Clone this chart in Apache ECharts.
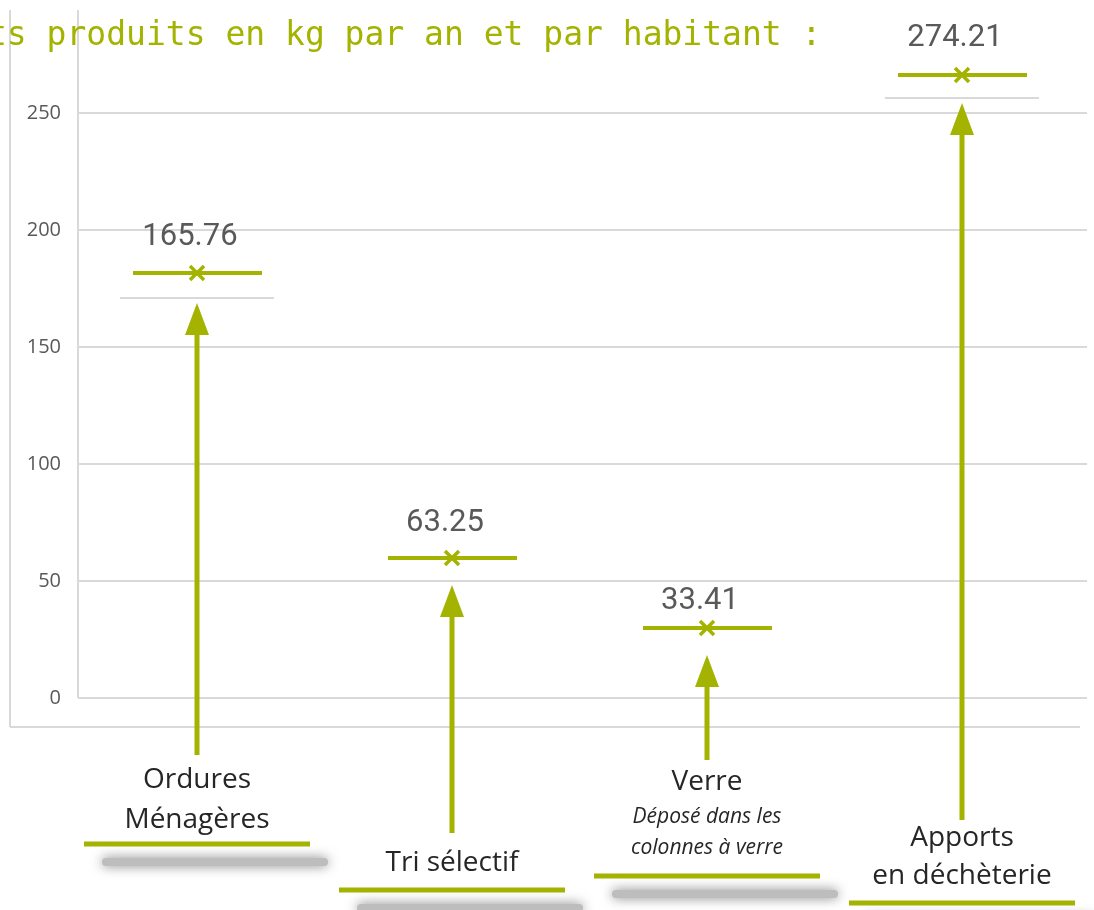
<!DOCTYPE html>
<html>
<head>
<meta charset="utf-8">
<script src="https://cdn.jsdelivr.net/npm/echarts@6/dist/echarts.min.js"></script>
<style>
html, body { margin: 0; padding: 0; background: #fff; }
#chart { width: 1094px; height: 910px; }
</style>
</head>
<body>
<div id="chart"></div>
<script>
// data
var categories = ['Ordures\nMénagères', 'Tri sélectif', 'Verre', 'Apports\nen déchèterie'];
var subtitles = ['', '', 'Déposé dans les\ncolonnes à verre', ''];
var values = [165.76, 63.25, 33.41, 274.21];
// where each mark is drawn against the axis (kg)
var markLevel = [181.6, 59.8, 29.9, 266.2];
var refLevel = [170.9, null, null, 256.4];
var arrowTip = [168.8, 48.3, 18.4, 254.3];
var arrowBase = [-24.4, -57.7, -26.5, -52.1];
var yTicks = [0, 50, 100, 150, 200, 250];

var GREEN = '#a3b300';
var GRID_GREY = '#d9d9d9';

// layout of each block: value label offset above the mark, label lines under the arrow foot (px)
var blockLayout = [
    { label: -36, lines: [25, 65], under: 89 },
    { label: -35, lines: [30], under: 57 },
    { label: -27, lines: [22], sub: [57, 88], under: 116 },
    { label: -37, lines: [18, 56], under: 83 }
];

function renderItem(params, api) {
    var i = params.dataIndex;
    var lay = blockLayout[i];
    var xc = api.coord([i, 0])[0];
    var yMark = api.coord([i, markLevel[i]])[1];
    var yTip = api.coord([i, arrowTip[i]])[1];
    var yBase = api.coord([i, arrowBase[i]])[1];
    var kids = [];

    if (refLevel[i] != null) {
        var yRef = api.coord([i, refLevel[i]])[1];
        kids.push({ type: 'line', shape: { x1: xc - 77, y1: yRef, x2: xc + 77, y2: yRef },
            style: { stroke: GRID_GREY, lineWidth: 2 } });
    }
    kids.push({ type: 'line', shape: { x1: xc - 64, y1: yMark, x2: xc + 65, y2: yMark },
        style: { stroke: GREEN, lineWidth: 4 } });
    kids.push({ type: 'line', shape: { x1: xc - 7, y1: yMark - 7, x2: xc + 7, y2: yMark + 7 },
        style: { stroke: GREEN, lineWidth: 3.5 } });
    kids.push({ type: 'line', shape: { x1: xc - 7, y1: yMark + 7, x2: xc + 7, y2: yMark - 7 },
        style: { stroke: GREEN, lineWidth: 3.5 } });
    kids.push({ type: 'text', style: { text: values[i].toFixed(2), x: xc - 7, y: yMark + lay.label,
        align: 'center', verticalAlign: 'middle', font: '31px Roboto', fill: '#595959' } });

    // arrow
    kids.push({ type: 'rect', shape: { x: xc - 2.5, y: yTip + 30, width: 5, height: yBase - yTip - 30 },
        style: { fill: GREEN } });
    kids.push({ type: 'polygon', shape: { points: [[xc, yTip], [xc - 12, yTip + 32], [xc + 12, yTip + 32]] },
        style: { fill: GREEN } });

    // label block
    categories[i].split('\n').forEach(function (t, k) {
        kids.push({ type: 'text', style: { text: t, x: xc, y: yBase + lay.lines[k],
            align: 'center', verticalAlign: 'middle', font: '28px "Open Sans"', fill: '#262626' } });
    });
    if (subtitles[i]) {
        subtitles[i].split('\n').forEach(function (t, k) {
            kids.push({ type: 'text', style: { text: t, x: xc, y: yBase + lay.sub[k],
                align: 'center', verticalAlign: 'middle', font: 'italic 21px "Open Sans"', fill: '#262626' } });
        });
    }
    var yU = yBase + lay.under;
    kids.push({ type: 'rect', shape: { x: xc - 95, y: yU + 14, width: 226, height: 8, r: 4 },
        style: { fill: '#bdbdbd', shadowBlur: 12, shadowColor: 'rgba(0,0,0,0.5)' } });
    kids.push({ type: 'rect', shape: { x: xc - 113, y: yU - 2.5, width: 226, height: 5 },
        style: { fill: GREEN } });

    return { type: 'group', children: kids };
}

var chart = echarts.init(document.getElementById('chart'));

var seriesData = categories.map(function (c, i) {
    return [i, markLevel[i]];
});

chart.setOption({
    animation: false,
    backgroundColor: '#fff',
    grid: [
        { left: 78, right: 7, top: 113, bottom: 212 },
        { left: 69.5, width: 1020, top: 113, bottom: 212 }
    ],
    xAxis: [
        { type: 'category', gridIndex: 0, data: categories, show: false },
        { type: 'category', gridIndex: 1, data: categories, show: false }
    ],
    yAxis: [
        {
            type: 'value', gridIndex: 0,
            min: yTicks[0], max: yTicks[yTicks.length - 1], interval: yTicks[1] - yTicks[0],
            axisLine: { show: false },
            axisTick: { show: false },
            axisLabel: { color: '#595959', fontSize: 20, fontFamily: 'Open Sans', margin: 17 },
            splitLine: { lineStyle: { color: GRID_GREY, width: 2 } }
        },
        {
            type: 'value', gridIndex: 1,
            min: yTicks[0], max: yTicks[yTicks.length - 1],
            show: false, splitLine: { show: false }
        }
    ],
    graphic: [
        { type: 'line', shape: { x1: 10, y1: 10, x2: 10, y2: 727 }, style: { stroke: GRID_GREY, lineWidth: 2 }, z: 0 },
        { type: 'line', shape: { x1: 10, y1: 727, x2: 1080, y2: 727 }, style: { stroke: GRID_GREY, lineWidth: 2 }, z: 0 },
        { type: 'line', shape: { x1: 78, y1: 10, x2: 78, y2: 698 }, style: { stroke: GRID_GREY, lineWidth: 2 }, z: 0 },
        {
            type: 'text', left: -13, top: 20, z: 10,
            style: { text: 'ts produits en kg par an et par habitant :', font: '33px "DejaVu Sans Mono"', fill: GREEN }
        }
    ],
    series: [{
        type: 'custom',
        xAxisIndex: 1, yAxisIndex: 1,
        clip: false,
        renderItem: renderItem,
        data: seriesData,
        z: 5
    }]
});
</script>
</body>
</html>
